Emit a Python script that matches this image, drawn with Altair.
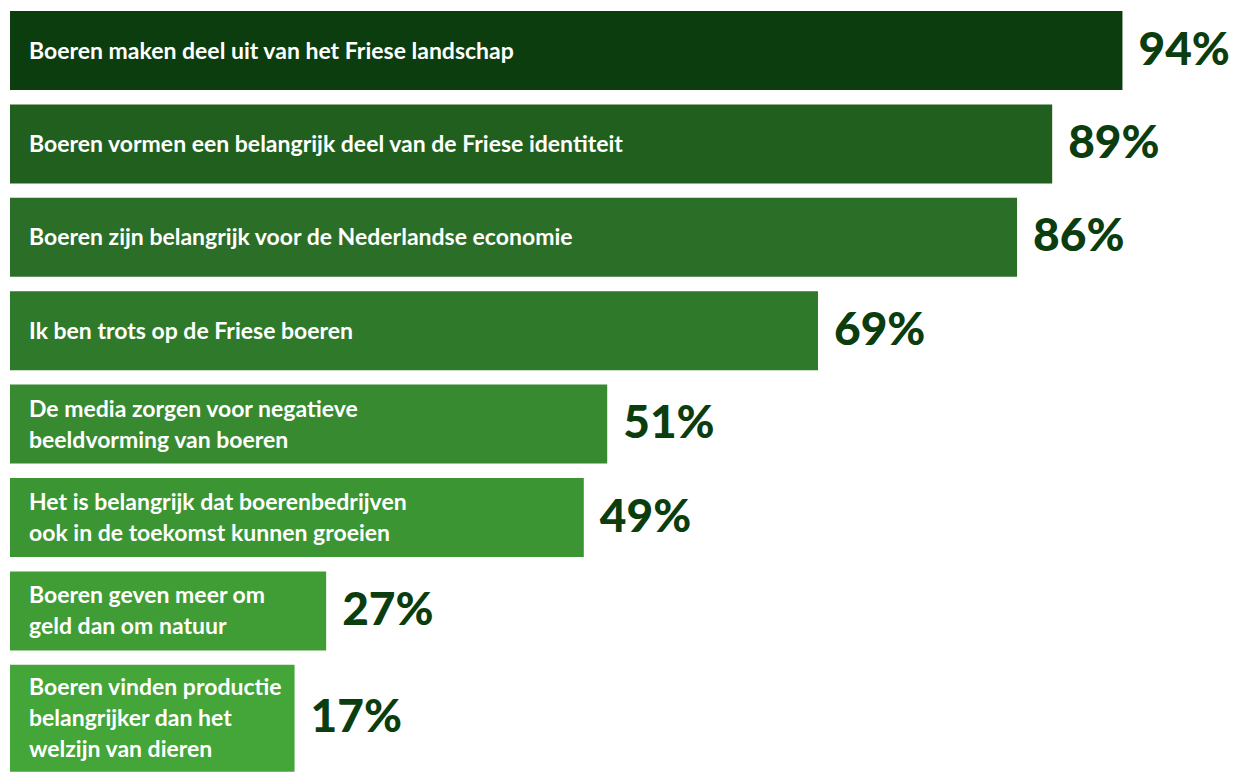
import altair as alt
import pandas as pd

statements = [
    "Boeren maken deel uit van het Friese landschap",
    "Boeren vormen een belangrijk deel van de Friese identiteit",
    "Boeren zijn belangrijk voor de Nederlandse economie",
    "Ik ben trots op de Friese boeren",
    "De media zorgen voor negatieve\nbeeldvorming van boeren",
    "Het is belangrijk dat boerenbedrijven\nook in de toekomst kunnen groeien",
    "Boeren geven meer om\ngeld dan om natuur",
    "Boeren vinden productie\nbelangrijker dan het\nwelzijn van dieren",
]
values = [94, 89, 86, 69, 51, 49, 27, 17]
bar_lengths = [95.0, 89, 86, 69, 51, 49, 27, 24.3]

palette = ["#0b3d0f", "#215f1e", "#2a6e27", "#2f792b", "#378a30", "#3b9533", "#409d36", "#44a538"]

df = pd.DataFrame({
    "rank": list(range(len(statements))),
    "statement": statements,
    "value": values,
    "bar": bar_lengths,
    "nlines": [s.count("\n") + 1 for s in statements],
})

base = alt.Chart(df).transform_calculate(
    bar_h="datum.nlines > 2 ? 107 : 79",
    zero="0",
).transform_calculate(
    step="datum.bar_h + 14.4",
    label="datum.value + '%'",
).transform_window(
    cum="sum(step)", sort=[alt.SortField("rank")]
).transform_calculate(
    top="datum.cum - datum.step",
).transform_calculate(
    bottom="datum.top + datum.bar_h",
    mid="datum.top + datum.bar_h / 2",
).transform_calculate(
    text_y="datum.mid - (datum.nlines - 1) * 15.5 + 1",
)

yscale = alt.Scale(domain=[0, 761], reverse=True, nice=False, zero=False)
xscale = alt.Scale(domain=[0, 100], nice=False)

bars = base.mark_bar().encode(
    x=alt.X("bar:Q", scale=xscale, axis=None),
    x2="zero:Q",
    y=alt.Y("top:Q", scale=yscale, axis=None),
    y2="bottom:Q",
    color=alt.Color("rank:O", scale=alt.Scale(domain=list(range(len(statements))), range=palette), legend=None),
)

inner = base.mark_text(
    align="left", baseline="middle", lineBreak="\n", lineHeight=31,
    fontSize=23, fontWeight="bold", font="Lato", color="white", dx=19,
).encode(
    x=alt.X("zero:Q", scale=xscale, axis=None),
    y=alt.Y("text_y:Q", scale=yscale, axis=None),
    text="statement:N",
)

pct = base.mark_text(
    align="left", baseline="middle", dx=16,
    fontSize=46, fontWeight=900, font="Lato", color="#0b3d0f",
).encode(
    x=alt.X("bar:Q", scale=xscale, axis=None),
    y=alt.Y("mid:Q", scale=yscale, axis=None),
    text="label:N",
)

chart = alt.layer(bars, inner, pct).properties(
    width=1171, height=761,
    padding={"left": 2, "top": 3, "right": 51, "bottom": 0},
    autosize=alt.AutoSizeParams(type="none"),
).configure_view(stroke=None)

chart.save("out.html", embed_options={"renderer": "svg", "actions": False})
